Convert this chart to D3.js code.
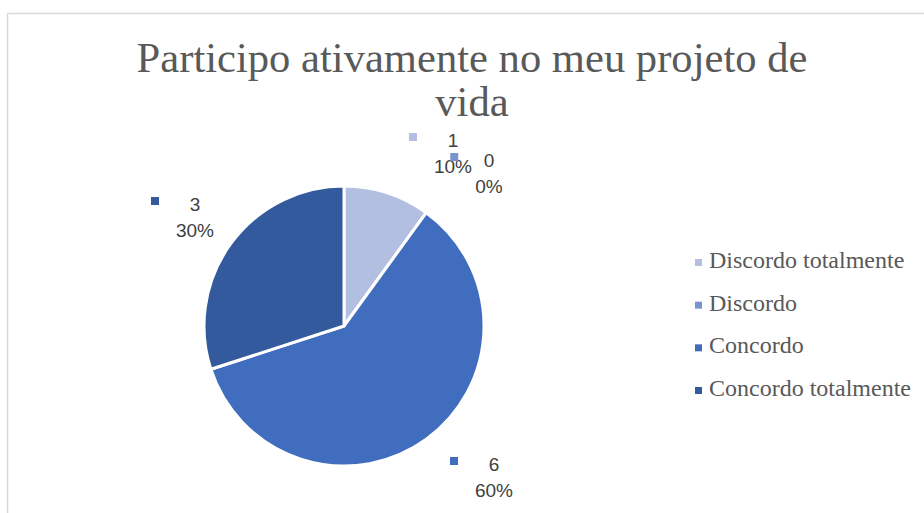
<!DOCTYPE html>
<html>
<head>
<meta charset="utf-8">
<script src="https://cdn.jsdelivr.net/npm/d3@7"></script>
<style>
body { margin: 0; background: #fff; }
</style>
</head>
<body>
<div id="chart"></div>
<script>
// data
var categories = ["Discordo totalmente", "Discordo", "Concordo", "Concordo totalmente"];
var counts = [1, 0, 6, 3];
var percents = ["10%", "0%", "60%", "30%"];
var colors = ["#b3bfe0", "#7a93d0", "#416dbe", "#335a9d"];
var titleLines = ["Participo ativamente no meu projeto de", "vida"];

// label anchor spots (center x, y) per slice
var labelSpots = [[453, 137], [489, 157], [494, 461], [195, 201]];

var width = 924, height = 513;
var svg = d3.select("#chart").append("svg").attr("width", width).attr("height", height);

// frame
svg.append("rect").attr("x", 7.5).attr("y", 13.5).attr("width", 930).attr("height", 520)
  .attr("fill", "#fff").attr("stroke", "#d9d9d9").attr("stroke-width", 1.5);

// title (fit to the original width)
var tg = svg.append("g");
var tt = tg.selectAll("text").data(titleLines).enter().append("text")
  .attr("x", 0).attr("y", function(d, i) { return 72 + i * 44; })
  .attr("text-anchor", "middle")
  .attr("font-family", "'Liberation Serif', 'Times New Roman', serif")
  .attr("font-size", 43).attr("fill", "#595959")
  .text(function(d) { return d; });
var w0 = tt.node().getComputedTextLength();
var sx = 671 / w0;
tg.attr("transform", "translate(472,0) scale(" + sx + ",1)");

var cx = 344, cy = 326, r = 140;
var pie = d3.pie().sort(null).value(function(d) { return d; });
var arc = d3.arc().innerRadius(0).outerRadius(r);
var arcs = pie(counts);

var g = svg.append("g").attr("transform", "translate(" + cx + "," + cy + ")");
g.selectAll("path").data(arcs).enter().append("path")
  .attr("d", arc)
  .attr("fill", function(d, i) { return colors[i]; })
  .attr("stroke", "#fff").attr("stroke-width", 3).attr("stroke-linejoin", "round");

// data labels
var lab = svg.append("g").selectAll("g").data(arcs).enter().append("g");
lab.append("text")
  .attr("x", function(d, i) { return labelSpots[i][0]; })
  .attr("y", function(d, i) { return labelSpots[i][1] + 10; })
  .attr("text-anchor", "middle")
  .attr("font-family", "'Liberation Sans', Arial, sans-serif").attr("font-size", 19).attr("fill", "#404040")
  .text(function(d) { return d.data; });
lab.append("text").attr("class", "pct")
  .attr("x", function(d, i) { return labelSpots[i][0]; })
  .attr("y", function(d, i) { return labelSpots[i][1] + 36; })
  .attr("text-anchor", "middle")
  .attr("font-family", "'Liberation Sans', Arial, sans-serif").attr("font-size", 19).attr("fill", "#404040")
  .text(function(d, i) { return percents[i]; });
// key square sits left of the wider line
lab.each(function(d, i) {
  var pw = d3.select(this).select(".pct").node().getComputedTextLength();
  d3.select(this).append("rect")
    .attr("x", labelSpots[i][0] - pw / 2 - 17 - 8)
    .attr("y", labelSpots[i][1] - 4)
    .attr("width", 8).attr("height", 8)
    .attr("fill", colors[i]);
});

// legend
var legendY = d3.scalePoint().domain(categories).range([268, 396]);
var leg = svg.append("g").selectAll("g").data(categories).enter().append("g")
  .attr("transform", function(d) { return "translate(695," + legendY(d) + ")"; });
leg.append("rect").attr("x", 0).attr("y", -9).attr("width", 7).attr("height", 7)
  .attr("fill", function(d, i) { return colors[i]; });
leg.append("text").attr("x", 14).attr("y", 0)
  .attr("font-family", "'Liberation Serif', 'Times New Roman', serif").attr("font-size", 24).attr("fill", "#595959")
  .text(function(d) { return d; });
</script>
</body>
</html>
